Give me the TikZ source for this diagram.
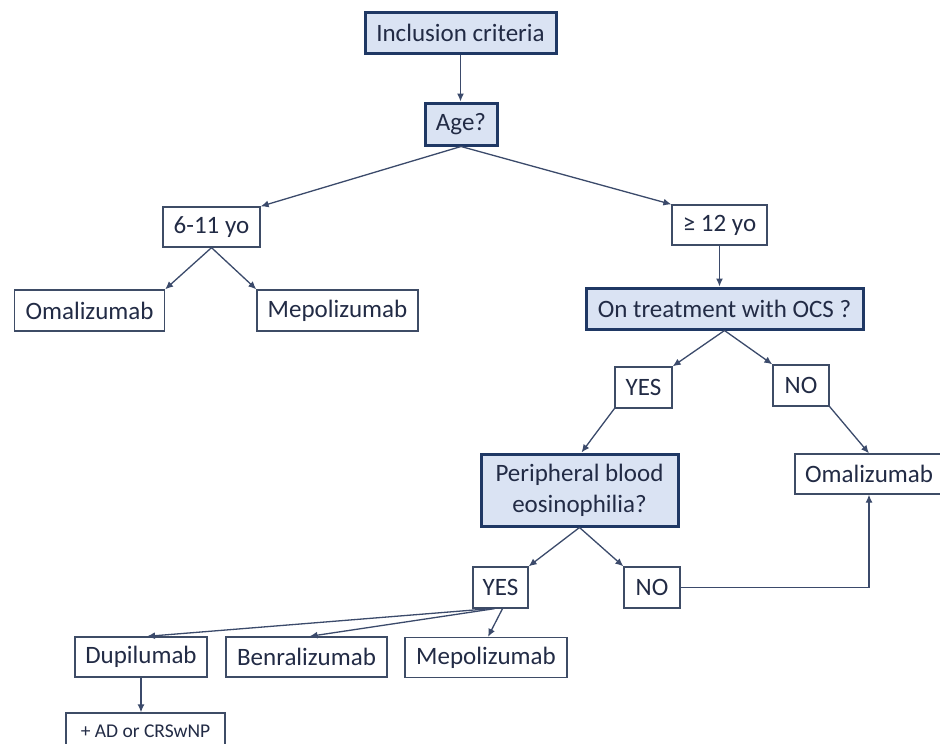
\documentclass[tikz,border=0pt]{standalone}
\usepackage{fontspec}
\setmainfont{Carlito}
\usetikzlibrary{arrows.meta,calc}
\definecolor{navy}{HTML}{1F3864}
\definecolor{lblue}{HTML}{DAE3F3}
\definecolor{txt}{HTML}{222B45}
\definecolor{thin}{HTML}{3E4C66}
\definecolor{conn}{HTML}{3B4A6B}
\tikzset{
  base/.style={rectangle, inner sep=0pt, align=center, text=txt,
    font=\fontsize{25}{31}\selectfont},
  keybox/.style={base, draw=navy, line width=3pt, fill=lblue},
  plainbox/.style={base, draw=thin, line width=1.3pt, fill=white},
  link/.style={draw=conn, line width=1.3pt, -{Latex[length=8pt,width=7pt]}, color=conn},
}
\begin{document}
\begin{tikzpicture}[x=1pt,y=-1pt]
\useasboundingbox (0,0) rectangle (940,744);
\clip (0,0) rectangle (940,744);
\fill[white] (0,0) rectangle (940,744);
\node[keybox, minimum width=191pt, minimum height=41pt] (inc) at (460.5,32.5) {Inclusion criteria};
\node[keybox, minimum width=72pt, minimum height=42pt] (age) at (461,124) {Age?};
\node[plainbox, minimum width=97pt, minimum height=40pt] (y611) at (211.5,227) {6-11 yo};
\node[plainbox, minimum width=150pt, minimum height=41pt] (om1) at (89.5,310.5) {Omalizumab};
\node[plainbox, minimum width=161pt, minimum height=41pt] (mep1) at (337.5,310.5) {Mepolizumab};
\node[plainbox, minimum width=95pt, minimum height=40pt] (y12) at (719.5,225) {≥ 12 yo};
\node[keybox, minimum width=277pt, minimum height=41pt] (ocs) at (724.5,308.5) {On treatment with OCS ?};
\node[plainbox, minimum width=57pt, minimum height=41pt] (yes1) at (643.5,387.5) {YES};
\node[plainbox, minimum width=56pt, minimum height=41pt] (no1) at (801,385.5) {NO};
\node[keybox, minimum width=197pt, minimum height=72pt] (peb) at (579.5,490) {Peripheral blood\\eosinophilia?};
\node[plainbox, minimum width=148pt, minimum height=40pt] (om2) at (869,474) {Omalizumab};
\node[plainbox, minimum width=55pt, minimum height=41pt] (yes2) at (500.5,587.5) {YES};
\node[plainbox, minimum width=56pt, minimum height=41pt] (no2) at (652,587.5) {NO};
\node[plainbox, minimum width=132pt, minimum height=40pt] (dup) at (141,657) {Dupilumab};
\node[plainbox, minimum width=161pt, minimum height=40pt] (ben) at (306.5,657) {Benralizumab};
\node[plainbox, minimum width=162pt, minimum height=40pt] (mep2) at (486,657.5) {Mepolizumab};
\node[plainbox, minimum width=159pt, minimum height=36pt, font=\fontsize{19.5}{23}\selectfont] (ad) at (145.5,731) {+ AD or CRSwNP};
\draw[link] (inc.south) -- (inc.south |- age.north);
\draw[link] (age.south) -- (y611.north east);
\draw[link] (age.south) -- (y12.north west);
\draw[link] (y611.south) -- (om1.north east);
\draw[link] (y611.south) -- (mep1.north west);
\draw[link] (y12.south) -- (y12.south |- ocs.north);
\draw[link] (ocs.south) -- (yes1.north east);
\draw[link] (ocs.south) -- (no1.north west);
\draw[link] (yes1.south west) -- ([xshift=2pt]peb.north);
\draw[link] (no1.south east) -- (om2.north);
\draw[link] (peb.south) -- (yes2.north east);
\draw[link] (peb.south) -- (no2.north west);
\draw[link] (no2.east) -| (om2.south);
\draw[link] ([xshift=-10pt]yes2.south) -- ([xshift=6pt]dup.north);
\draw[link] ([xshift=-6pt]yes2.south) -- ([xshift=3pt]ben.north);
\draw[link] ([xshift=2pt]yes2.south) -- ([xshift=2pt]mep2.north);
\draw[link] (dup.south) -- (dup.south |- ad.north);
\end{tikzpicture}
\end{document}
